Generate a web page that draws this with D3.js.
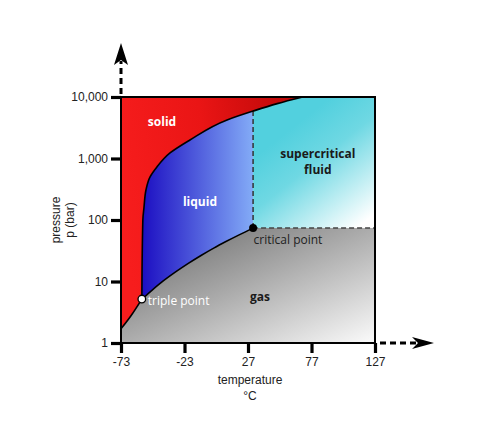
<!DOCTYPE html>
<html>
<head>
<meta charset="utf-8">
<script src="https://cdn.jsdelivr.net/npm/d3@7"></script>
<style>
  body { margin: 0; background: #fff; }
  .axis text { font-family: "Liberation Sans", Arial, sans-serif; font-size: 12px; fill: #222; }
  .region { font-family: "Open Sans", sans-serif; font-size: 12px; }
</style>
</head>
<body>
<div id="chart"></div>
<script>
// tick values
var tempTicks = [-73, -23, 27, 77, 127];
var pressureTicks = [1, 10, 100, 1000, 10000];

// phase boundaries, [temperature degC, pressure bar]
var sublimation = [[-73, 1.7], [-65, 2.8], [-56.6, 5.18]];
var vaporization = [[-56.6, 5.18], [-50, 6.8], [-40, 10.1], [-30, 14.3], [-20, 19.7],
                    [-10, 26.5], [0, 34.9], [10, 45], [20, 57.3], [31, 73.8]];
var meltingLow = [[-56.6, 5.18], [-55.8, 100], [-54.9, 160], [-53.3, 310], [-50.2, 500],
                  [-44.7, 730], [-34.4, 1230], [-18.7, 2000], [10.5, 4230], [31, 5900]];
var meltingHigh = [[31, 5900], [50, 7800], [70, 10000]];

var triplePoint = [-56.6, 5.18];
var criticalPoint = [31, 73.8];

// region labels: one entry per line of text
var regionLabels = [
  {text: "solid", t: -40.7, p: 3400, color: "#fff"},
  {text: "liquid", t: -10.8, p: 169, color: "#fff"},
  {text: "supercritical", t: 82, p: 1020, color: "#1a1a1a"},
  {text: "fluid", t: 82, p: 550, color: "#1a1a1a"},
  {text: "gas", t: 36.4, p: 4.8, color: "#1a1a1a"}
];

var width = 487, height = 445;

var svg = d3.select("#chart")
  .append("svg")
    .attr("width", width)
    .attr("height", height);

var x = d3.scaleLinear().domain([-73, 127]).range([121, 375]);
var y = d3.scaleLog().domain([1, 10000]).range([343, 97]);

var tMin = x.domain()[0], tMax = x.domain()[1];
var pMin = y.domain()[0], pMax = y.domain()[1];

function pt(d) { return x(d[0]) + "," + y(d[1]); }

var lineX = d3.line().x(function(d) { return x(d[0]); }).y(function(d) { return y(d[1]); })
  .curve(d3.curveMonotoneX);
var lineY = d3.line().x(function(d) { return x(d[0]); }).y(function(d) { return y(d[1]); })
  .curve(d3.curveMonotoneY);

function asL(p) { return p.replace(/^M/, "L"); }

// gradients
var defs = svg.append("defs");
function grad(id, x1, y1, x2, y2, stops) {
  var g = defs.append("linearGradient").attr("id", id)
    .attr("x1", x1).attr("y1", y1).attr("x2", x2).attr("y2", y2);
  stops.forEach(function(s) {
    g.append("stop").attr("offset", s[0]).attr("stop-color", s[1]);
  });
}
grad("gSolid", 0, 0.5, 1, 0.3, [[0, "#f71d1d"], [0.5, "#ea1515"], [1, "#bd0808"]]);
grad("gLiquid", 0, 0, 1, 0, [[0, "#1c0ec2"], [1, "#83abf7"]]);
grad("gSuper", 0.3, 0.25, 0.85, 1, [[0, "#52d0de"], [0.35, "#6fd8e3"], [1, "#ffffff"]]);
grad("gGas", 0.05, 0.1, 0.95, 1, [[0, "#6c6c6c"], [0.45, "#a9a9a9"], [1, "#f7f7f7"]]);

var meltAll = meltingLow.concat(meltingHigh.slice(1));

// solid
svg.append("path")
  .attr("fill", "url(#gSolid)")
  .attr("d", "M" + pt([tMin, pMax]) + "L" + pt(meltingHigh[meltingHigh.length - 1]) +
    asL(lineY(meltAll.slice().reverse())) +
    asL(lineX(sublimation.slice().reverse())) + "Z");

// liquid
svg.append("path")
  .attr("fill", "url(#gLiquid)")
  .attr("d", lineY(meltingLow) + "L" + pt(criticalPoint) +
    asL(lineX(vaporization.slice().reverse())) + "Z");

// supercritical fluid
svg.append("path")
  .attr("fill", "url(#gSuper)")
  .attr("d", "M" + pt(criticalPoint) + "L" + pt([tMax, criticalPoint[1]]) +
    "L" + pt([tMax, pMax]) + asL(lineY(meltingHigh.slice().reverse())) + "Z");

// gas
svg.append("path")
  .attr("fill", "url(#gGas)")
  .attr("d", lineX(sublimation) + asL(lineX(vaporization)) +
    "L" + pt([tMax, criticalPoint[1]]) + "L" + pt([tMax, pMin]) +
    "L" + pt([tMin, pMin]) + "Z");

// dashed critical lines
svg.append("path")
  .attr("fill", "none").attr("stroke", "#333").attr("stroke-width", 1.5)
  .attr("stroke-dasharray", "5,3")
  .attr("d", "M" + pt(criticalPoint) + "L" + pt(meltingHigh[0]));
svg.append("path")
  .attr("fill", "none").attr("stroke", "#444").attr("stroke-width", 1.5)
  .attr("stroke-dasharray", "5,3")
  .attr("d", "M" + pt(criticalPoint) + "L" + pt([tMax, criticalPoint[1]]));

// boundary curves
[sublimation, vaporization].forEach(function(c) {
  svg.append("path").attr("fill", "none").attr("stroke", "#000").attr("stroke-width", 1.6)
    .attr("d", lineX(c));
});
svg.append("path").attr("fill", "none").attr("stroke", "#000").attr("stroke-width", 1.6)
  .attr("d", lineY(meltAll));

// frame
svg.append("rect")
  .attr("x", x(tMin)).attr("y", y(pMax))
  .attr("width", x(tMax) - x(tMin)).attr("height", y(pMin) - y(pMax))
  .attr("fill", "none").attr("stroke", "#000").attr("stroke-width", 2);

// axes
svg.append("g").attr("class", "axis")
  .attr("transform", "translate(" + x(tMin) + ",0)")
  .call(d3.axisLeft(y).tickValues(pressureTicks).tickSize(10).tickPadding(3)
    .tickFormat(d3.format(",")));
svg.append("g").attr("class", "axis")
  .attr("transform", "translate(0," + y(pMin) + ")")
  .call(d3.axisBottom(x).tickValues(tempTicks).tickSize(10).tickPadding(4)
    .tickFormat(function(d) { return String(d); }));
svg.selectAll(".axis .domain").remove();
svg.selectAll(".axis line").attr("stroke", "#000").attr("stroke-width", 3.2);

// arrows
var ax0 = x(tMin), ay0 = y(pMax), bx0 = x(tMax), by0 = y(pMin);
svg.append("path").attr("stroke", "#000").attr("stroke-width", 3).attr("fill", "none")
  .attr("stroke-dasharray", "6,4")
  .attr("d", "M" + ax0 + "," + (ay0 - 3) + "V" + (ay0 - 36));
svg.append("path").attr("fill", "#000")
  .attr("d", "M" + ax0 + "," + (ay0 - 54) + "L" + (ax0 + 7) + "," + (ay0 - 32) +
    "L" + ax0 + "," + (ay0 - 37) + "L" + (ax0 - 7) + "," + (ay0 - 32) + "Z");
svg.append("path").attr("stroke", "#000").attr("stroke-width", 3).attr("fill", "none")
  .attr("stroke-dasharray", "6,4")
  .attr("d", "M" + (bx0 + 5) + "," + by0 + "H" + (bx0 + 42));
svg.append("path").attr("fill", "#000")
  .attr("d", "M" + (bx0 + 59) + "," + by0 + "L" + (bx0 + 37) + "," + (by0 - 6) +
    "L" + (bx0 + 43) + "," + by0 + "L" + (bx0 + 37) + "," + (by0 + 6) + "Z");

// points
svg.append("circle").attr("cx", x(criticalPoint[0])).attr("cy", y(criticalPoint[1]))
  .attr("r", 4).attr("fill", "#000");
svg.append("circle").attr("cx", x(triplePoint[0])).attr("cy", y(triplePoint[1]))
  .attr("r", 3.8).attr("fill", "#fff").attr("stroke", "#000").attr("stroke-width", 1.3);

// region labels
svg.selectAll(".regionLabel")
  .data(regionLabels)
  .enter()
  .append("text")
    .attr("class", "region regionLabel")
    .attr("x", function(d) { return x(d.t); })
    .attr("y", function(d) { return y(d.p); })
    .attr("text-anchor", "middle")
    .attr("font-weight", "bold")
    .attr("font-size", "11.5px")
    .attr("fill", function(d) { return d.color; })
    .text(function(d) { return d.text; });

svg.append("text").attr("class", "region").attr("font-size", "11px")
  .attr("x", x(criticalPoint[0]) + 0.5).attr("y", y(criticalPoint[1]) + 16)
  .attr("fill", "#222").text("critical point");
svg.append("text").attr("class", "region").attr("font-size", "11px")
  .attr("x", x(triplePoint[0]) + 6).attr("y", y(triplePoint[1]) + 6)
  .attr("fill", "#fff").text("triple point");

// axis titles
var titleFont = "Liberation Sans, Arial, sans-serif";
svg.append("text").attr("x", (x(tMin) + x(tMax)) / 2 + 2).attr("y", 384)
  .attr("text-anchor", "middle").attr("font-family", titleFont).attr("font-size", 12)
  .attr("fill", "#222").text("temperature");
svg.append("text").attr("x", (x(tMin) + x(tMax)) / 2 + 2).attr("y", 400)
  .attr("text-anchor", "middle").attr("font-family", titleFont).attr("font-size", 12)
  .attr("fill", "#222").text("°C");
svg.append("text").attr("transform", "translate(60,220) rotate(-90)")
  .attr("text-anchor", "middle").attr("font-family", titleFont).attr("font-size", 12)
  .attr("fill", "#222").text("pressure");
svg.append("text").attr("transform", "translate(74,220) rotate(-90)")
  .attr("text-anchor", "middle").attr("font-family", titleFont).attr("font-size", 12)
  .attr("fill", "#222").text("p (bar)");
</script>
</body>
</html>
